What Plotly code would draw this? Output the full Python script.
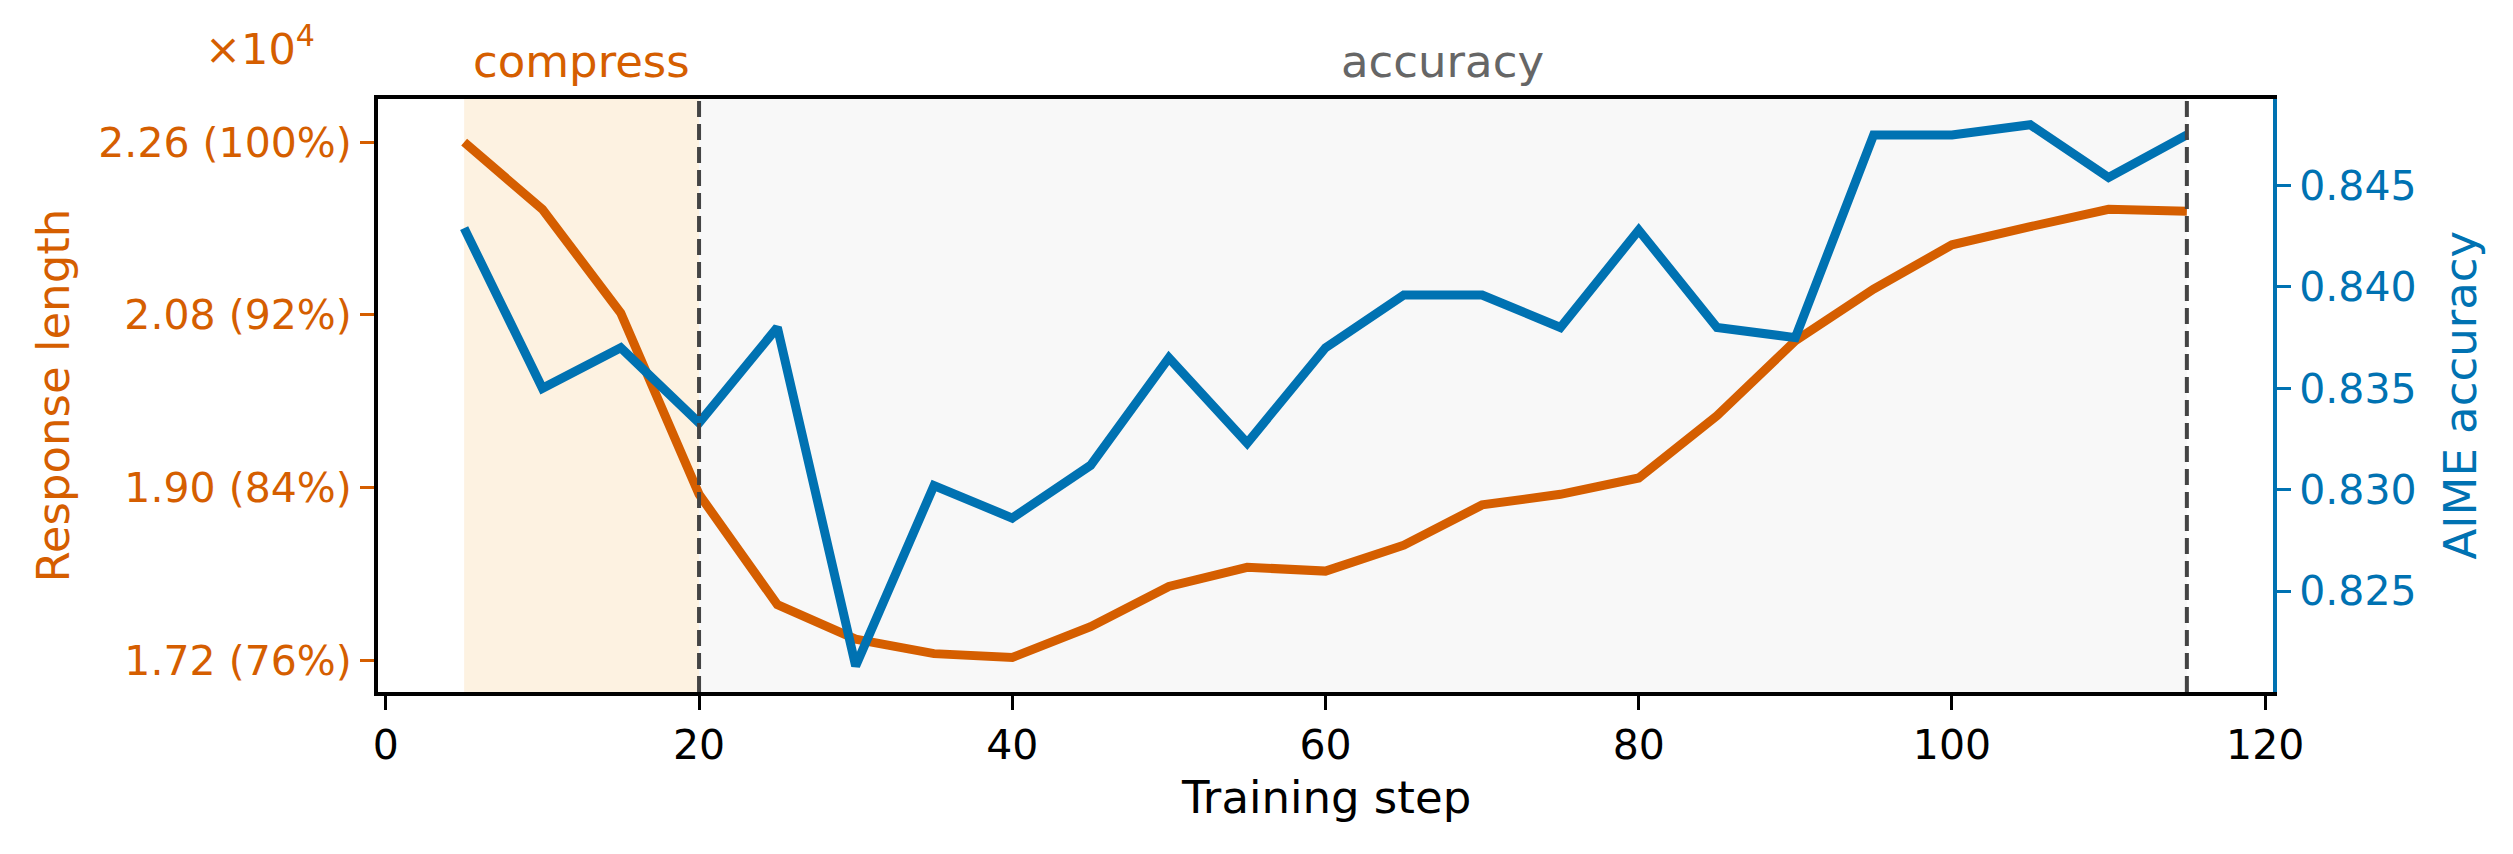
import plotly.graph_objects as go

steps = [5, 10, 15, 20, 25, 30, 35, 40, 45, 50, 55, 60, 65, 70, 75, 80, 85, 90, 95, 100, 105, 110, 115]
response_length = [22600, 21900, 20820, 18930, 17780, 17420, 17270, 17230, 17550, 17970, 18170, 18130,
                   18400, 18820, 18930, 19100, 19750, 20530, 21070, 21530, 21720, 21900, 21880]
aime_accuracy = [0.8429, 0.8350, 0.8370, 0.8333, 0.8380, 0.8213, 0.8302, 0.8286, 0.8312, 0.8365, 0.8323, 0.8370,
                 0.8396, 0.8396, 0.8380, 0.8428, 0.8380, 0.8375, 0.8475, 0.8475, 0.8480, 0.8454, 0.8475]

len_tickvals = [17200, 19000, 20800, 22600]
len_ticktext = ["1.72 (76%)", "1.90 (84%)", "2.08 (92%)", "2.26 (100%)"]
acc_tickvals = [0.825, 0.830, 0.835, 0.840, 0.845]
acc_ticktext = ["0.825", "0.830", "0.835", "0.840", "0.845"]
x_tickvals = [0, 20, 40, 60, 80, 100, 120]

phases = [("compress", 5, 20), ("accuracy", 20, 115)]
phase_fill = ["#fdf2e1", "#f8f8f8"]
phase_text_color = ["#d55e00", "#666666"]
boundaries = [20, 115]

ORANGE = "#d55e00"
BLUE = "#0072b2"
FONT = "DejaVu Sans"

W, H = 2513, 854
OFF = 8  # default page body margin
L, R, T, B = 378, 2273, 99, 692  # plot edges in page pixels


def px_x(p):
    return (p - L) / (R - L)


def px_y(p):
    return (B - p) / (B - T)


fig = go.Figure()
fig.add_trace(go.Scatter(x=steps, y=response_length, mode="lines",
                         line=dict(color=ORANGE, width=9), yaxis="y", showlegend=False))
fig.add_trace(go.Scatter(x=steps, y=aime_accuracy, mode="lines",
                         line=dict(color=BLUE, width=9), yaxis="y2", showlegend=False))

shapes = []
for (name, x0, x1), fc in zip(phases, phase_fill):
    shapes.append(dict(type="rect", xref="x", yref="paper", x0=x0, x1=x1, y0=0, y1=1,
                       fillcolor=fc, line=dict(width=0), layer="below"))
for bx in boundaries:
    shapes.append(dict(type="line", xref="x", yref="paper", x0=bx, x1=bx, y0=0, y1=1,
                       line=dict(color="#444444", width=4, dash="16px,7px"), layer="above"))

annotations = []
for (name, x0, x1), tc in zip(phases, phase_text_color):
    annotations.append(dict(text=name, x=(x0 + x1) / 2, xref="x", y=px_y(62), yref="paper",
                            xanchor="center", yanchor="middle", showarrow=False,
                            font=dict(family=FONT, size=45, color=tc)))
annotations.append(dict(text="×10<sup>4</sup>", x=px_x(260), y=px_y(46), xref="paper", yref="paper",
                        xanchor="center", yanchor="middle", showarrow=False,
                        font=dict(family=FONT, size=43, color=ORANGE)))
annotations.append(dict(text="Response length", x=px_x(53), y=0.5, xref="paper", yref="paper",
                        xanchor="center", yanchor="middle", textangle=-90, showarrow=False,
                        font=dict(family=FONT, size=45, color=ORANGE)))
annotations.append(dict(text="AIME accuracy", x=px_x(2460), y=0.5, xref="paper", yref="paper",
                        xanchor="center", yanchor="middle", textangle=-90, showarrow=False,
                        font=dict(family=FONT, size=45, color=BLUE)))
annotations.append(dict(text="Training step", x=0.5, y=px_y(797), xref="paper", yref="paper",
                        xanchor="center", yanchor="middle", showarrow=False,
                        font=dict(family=FONT, size=45, color="black")))

fig.update_layout(
    width=W, height=H,
    margin=dict(l=L - OFF, r=W + OFF - R, t=T - OFF, b=H + OFF - B),
    paper_bgcolor="white", plot_bgcolor="white",
    font=dict(family=FONT, size=41, color="black"),
    shapes=shapes, annotations=annotations,
    xaxis=dict(range=[-0.5, 120.5], tickvals=x_tickvals, showgrid=False, zeroline=False,
               showline=True, linecolor="black", linewidth=4, mirror=True,
               ticks="outside", ticklen=14, tickwidth=3, tickcolor="black",
               tickfont=dict(family=FONT, size=41, color="black")),
    yaxis=dict(range=[16870, 23050], tickvals=len_tickvals, ticktext=len_ticktext,
               showgrid=False, zeroline=False, showline=True, linecolor="black", linewidth=4,
               ticks="outside", ticklen=14, tickwidth=3, tickcolor=ORANGE,
               tickfont=dict(family=FONT, size=41, color=ORANGE)),
    yaxis2=dict(range=[0.82002, 0.84927], tickvals=acc_tickvals, ticktext=acc_ticktext,
                overlaying="y", side="right", showgrid=False, zeroline=False,
                showline=True, linecolor=BLUE, linewidth=4,
                ticks="outside", ticklen=14, tickwidth=3, tickcolor=BLUE,
                tickfont=dict(family=FONT, size=41, color=BLUE)),
)

fig.write_html("out.html")
